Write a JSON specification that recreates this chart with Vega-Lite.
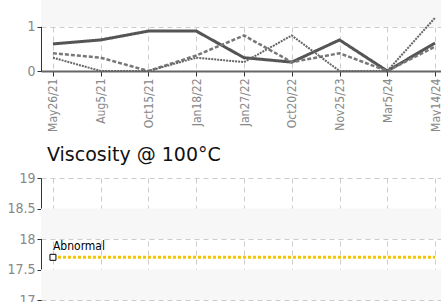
{
  "$schema": "https://vega.github.io/schema/vega-lite/v6.json",
  "padding": {"left": 6, "top": 0, "right": 0, "bottom": 0},
  "background": "white",
  "config": {
    "view": {"stroke": null},
    "axis": {
      "labelFont": "DejaVu Sans Condensed",
      "labelColor": "#888888",
      "domainColor": "#333333",
      "tickColor": "#333333",
      "gridColor": "#cccccc",
      "gridDash": [5, 4],
      "gridWidth": 1,
      "labelOverlap": false
    },
    "axisY": {"minExtent": 32, "maxExtent": 32}
  },
  "datasets": {
    "wear": [
      {"date": "May26/21", "series": "A", "value": 0.61},
      {"date": "Aug5/21", "series": "A", "value": 0.7},
      {"date": "Oct15/21", "series": "A", "value": 0.9},
      {"date": "Jan18/22", "series": "A", "value": 0.9},
      {"date": "Jan27/22", "series": "A", "value": 0.3},
      {"date": "Oct20/22", "series": "A", "value": 0.2},
      {"date": "Nov25/23", "series": "A", "value": 0.7},
      {"date": "Mar5/24", "series": "A", "value": 0},
      {"date": "May14/24", "series": "A", "value": 0.63},
      {"date": "May26/21", "series": "B", "value": 0.4},
      {"date": "Aug5/21", "series": "B", "value": 0.3},
      {"date": "Oct15/21", "series": "B", "value": 0},
      {"date": "Jan18/22", "series": "B", "value": 0.35},
      {"date": "Jan27/22", "series": "B", "value": 0.8},
      {"date": "Oct20/22", "series": "B", "value": 0.2},
      {"date": "Nov25/23", "series": "B", "value": 0.4},
      {"date": "Mar5/24", "series": "B", "value": 0},
      {"date": "May14/24", "series": "B", "value": 0.55},
      {"date": "May26/21", "series": "C", "value": 0.3},
      {"date": "Aug5/21", "series": "C", "value": 0},
      {"date": "Oct15/21", "series": "C", "value": 0},
      {"date": "Jan18/22", "series": "C", "value": 0.3},
      {"date": "Jan27/22", "series": "C", "value": 0.2},
      {"date": "Oct20/22", "series": "C", "value": 0.8},
      {"date": "Nov25/23", "series": "C", "value": 0},
      {"date": "Mar5/24", "series": "C", "value": 0},
      {"date": "May14/24", "series": "C", "value": 1.2}
    ],
    "visc": [
      {"date": "May26/21", "label": "Abnormal", "value": 17.7, "first": true},
      {"date": "Aug5/21", "label": "Abnormal", "value": 17.7, "first": false},
      {"date": "Oct15/21", "label": "Abnormal", "value": 17.7, "first": false},
      {"date": "Jan18/22", "label": "Abnormal", "value": 17.7, "first": false},
      {"date": "Jan27/22", "label": "Abnormal", "value": 17.7, "first": false},
      {"date": "Oct20/22", "label": "Abnormal", "value": 17.7, "first": false},
      {"date": "Nov25/23", "label": "Abnormal", "value": 17.7, "first": false},
      {"date": "Mar5/24", "label": "Abnormal", "value": 17.7, "first": false},
      {"date": "May14/24", "label": "Abnormal", "value": 17.7, "first": false}
    ],
    "bandsTop": [{"lo": 1, "hi": 1.6}],
    "bandsBottom": [{"lo": 17, "hi": 17.5}, {"lo": 18, "hi": 18.5}]
  },
  "spacing": 14,
  "vconcat": [
    {
      "width": 406,
      "height": 71,
      "layer": [
        {
          "data": {"name": "bandsTop"},
          "mark": {"type": "rect", "color": "#f7f7f7"},
          "encoding": {
            "y": {"field": "lo", "type": "quantitative", "scale": {"domain": [0, 1.6], "nice": false},
              "axis": {"title": null, "values": [0, 1], "labelFontSize": 14, "tickSize": 4, "labelPadding": 2, "grid": true}},
            "y2": {"field": "hi"}
          }
        },
        {
          "data": {"name": "wear"},
          "mark": {"type": "line"},
          "encoding": {
            "x": {
              "field": "date", "type": "ordinal",
              "sort": ["May26/21","Aug5/21","Oct15/21","Jan18/22","Jan27/22","Oct20/22","Nov25/23","Mar5/24","May14/24"],
              "scale": {"type": "point", "padding": 0.25},
              "axis": {"title": null, "labelAngle": 270, "labelFontSize": 12, "labelPadding": 2, "tickSize": 5, "domainColor": "#666666", "domainWidth": 2, "grid": true}
            },
            "y": {
              "field": "value", "type": "quantitative",
              "scale": {"domain": [0, 1.6], "nice": false},
              "axis": {"title": null, "values": [0, 1], "labelFontSize": 14, "tickSize": 4, "labelPadding": 2, "grid": true}
            },
            "color": {"field": "series", "type": "nominal", "scale": {"domain": ["A","B","C"], "range": ["#555555","#777777","#666666"]}, "legend": null},
            "strokeDash": {"field": "series", "type": "nominal", "scale": {"domain": ["A","B","C"], "range": [[1,0],[4,2],[2,1]]}, "legend": null},
            "strokeWidth": {"field": "series", "type": "nominal", "scale": {"domain": ["A","B","C"], "range": [3,2,3.5]}, "legend": null}
          }
        }
      ]
    },
    {
      "width": 406,
      "height": 122,
      "title": {"text": "Viscosity @ 100°C", "anchor": "start", "frame": "group", "font": "DejaVu Sans", "fontSize": 19, "fontWeight": "normal", "color": "#111111", "dx": 6, "offset": 6},
      "layer": [
        {
          "data": {"name": "bandsBottom"},
          "mark": {"type": "rect", "color": "#f7f7f7"},
          "encoding": {
            "y": {"field": "lo", "type": "quantitative", "scale": {"domain": [17, 19], "nice": false},
              "axis": {"title": null, "values": [17, 17.5, 18, 18.5, 19], "tickCount": 5, "labelExpr": "toString(datum.value)", "labelFontSize": 14, "tickSize": 4, "labelPadding": 2, "grid": true}},
            "y2": {"field": "hi"}
          }
        },
        {
          "data": {"name": "visc"},
          "mark": {"type": "line", "color": "#f5c400", "strokeWidth": 3, "strokeDash": [3, 2]},
          "encoding": {
            "x": {
              "field": "date", "type": "ordinal",
              "sort": ["May26/21","Aug5/21","Oct15/21","Jan18/22","Jan27/22","Oct20/22","Nov25/23","Mar5/24","May14/24"],
              "scale": {"type": "point", "padding": 0.25},
              "axis": {"title": null, "labels": false, "ticks": false, "domain": false, "grid": true}
            },
            "y": {
              "field": "value", "type": "quantitative",
              "scale": {"domain": [17, 19], "nice": false},
              "axis": {"title": null, "values": [17, 17.5, 18, 18.5, 19], "tickCount": 5, "labelExpr": "toString(datum.value)", "labelFontSize": 14, "tickSize": 4, "labelPadding": 2, "grid": true}
            }
          }
        },
        {
          "data": {"name": "visc"},
          "transform": [{"filter": "datum.first"}],
          "mark": {"type": "point", "shape": "square", "size": 36, "filled": true, "fill": "white", "stroke": "#000000", "strokeWidth": 1, "opacity": 1},
          "encoding": {
            "x": {"field": "date", "type": "ordinal", "sort": ["May26/21","Aug5/21","Oct15/21","Jan18/22","Jan27/22","Oct20/22","Nov25/23","Mar5/24","May14/24"], "scale": {"type": "point", "padding": 0.25}},
            "y": {"field": "value", "type": "quantitative"}
          }
        },
        {
          "data": {"name": "visc"},
          "transform": [{"filter": "datum.first"}],
          "mark": {"type": "text", "align": "left", "baseline": "bottom", "dy": -4, "font": "DejaVu Sans Condensed", "fontSize": 12, "color": "#000000"},
          "encoding": {
            "x": {"field": "date", "type": "ordinal", "sort": ["May26/21","Aug5/21","Oct15/21","Jan18/22","Jan27/22","Oct20/22","Nov25/23","Mar5/24","May14/24"], "scale": {"type": "point", "padding": 0.25}},
            "y": {"field": "value", "type": "quantitative"},
            "text": {"field": "label"}
          }
        }
      ]
    }
  ]
}
